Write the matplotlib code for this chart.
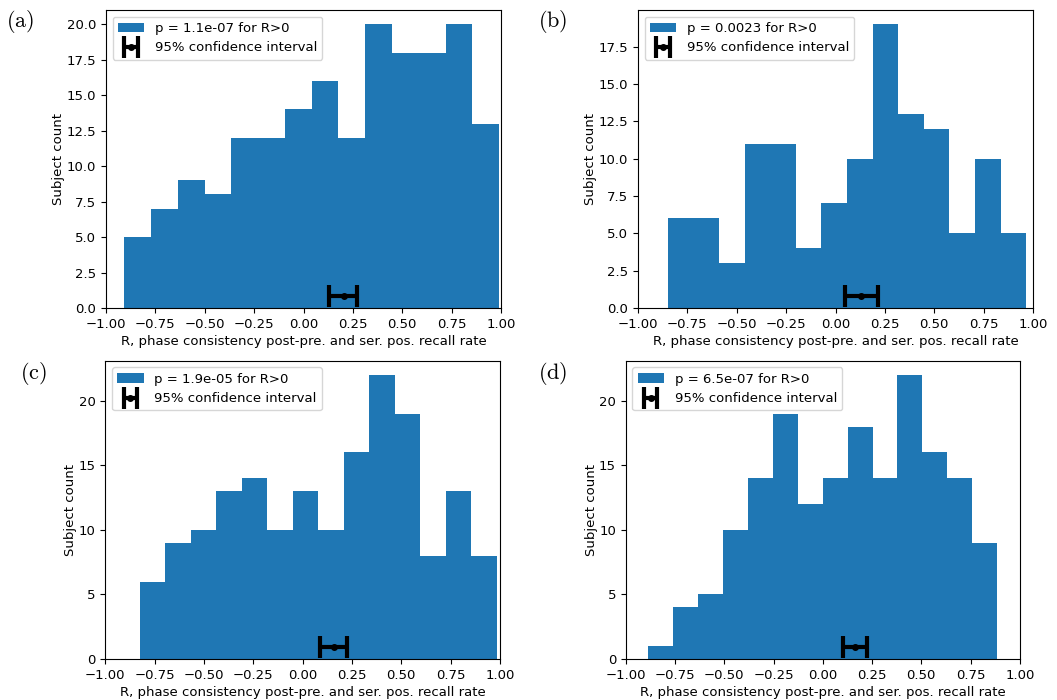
import matplotlib
matplotlib.use('Agg')
import matplotlib.pyplot as plt
import numpy as np

plt.rcParams['mathtext.fontset'] = 'cm'
plt.rcParams['font.size'] = 9.5

# histogram counts per panel (14 bins each)
counts_a = [5, 7, 9, 8, 12, 12, 14, 16, 12, 20, 18, 18, 20, 13]
counts_b = [6, 6, 3, 11, 11, 4, 7, 10, 19, 13, 12, 5, 10, 5]
counts_c = [6, 9, 10, 13, 14, 10, 13, 10, 16, 22, 19, 8, 13, 8]
counts_d = [1, 4, 5, 10, 14, 19, 12, 14, 18, 14, 22, 16, 14, 9]

# min / max of R in each panel (histogram range)
range_a = (-0.907, 0.990)
range_b = (-0.848, 0.965)
range_c = (-0.824, 0.983)
range_d = (-0.885, 0.885)

# 95% CI: (low, mean, high)
ci_a = (0.130, 0.205, 0.270)
ci_b = (0.048, 0.130, 0.213)
ci_c = (0.089, 0.160, 0.227)
ci_d = (0.105, 0.166, 0.227)

pvals = ['1.1e-07', '0.0023', '1.9e-05', '6.5e-07']
panel_labels = ['a', 'b', 'c', 'd']

nbins = 14

fig = plt.figure(figsize=(10.57, 7.0), dpi=100)

# axes rectangles in figure fraction
rects = [
    [0.1003, 0.560, 0.3737, 0.4257],
    [0.6036, 0.560, 0.3737, 0.4257],
    [0.0996, 0.0586, 0.3734, 0.4261],
    [0.5920, 0.0586, 0.3728, 0.4261],
]
label_pos = [(0.006, 0.988), (0.509, 0.988), (0.019, 0.486), (0.509, 0.486)]

panels = [
    (counts_a, range_a, ci_a),
    (counts_b, range_b, ci_b),
    (counts_c, range_c, ci_c),
    (counts_d, range_d, ci_d),
]

for i, (counts, rng, ci) in enumerate(panels):
    ax = fig.add_axes(rects[i])
    edges = np.histogram_bin_edges(list(rng), bins=nbins, range=rng)
    _, _, bars = ax.hist(edges[:-1], bins=edges, weights=counts, color='C0')
    ax.set_xlim(-1, 1)
    ytop = ax.get_ylim()[1]
    lo, mid, hi = ci
    eb = ax.errorbar([mid], [0.04 * ytop], xerr=[[mid - lo], [hi - mid]],
                     fmt='o', color='k', ms=4, lw=3, capsize=8, capthick=3)
    ax.set_ylim(0, ytop)
    ax.legend([bars[0], eb], [f'p = {pvals[i]} for R>0', '95% confidence interval'],
              loc='upper left')
    ax.set_xlabel('R, phase consistency post-pre. and ser. pos. recall rate', labelpad=3)
    ax.set_ylabel('Subject count', labelpad=1)
    fig.text(label_pos[i][0], label_pos[i][1], r'$(\mathrm{%s})$' % panel_labels[i],
             fontsize=16, ha='left', va='top')

fig.savefig('out.png', dpi=100)
